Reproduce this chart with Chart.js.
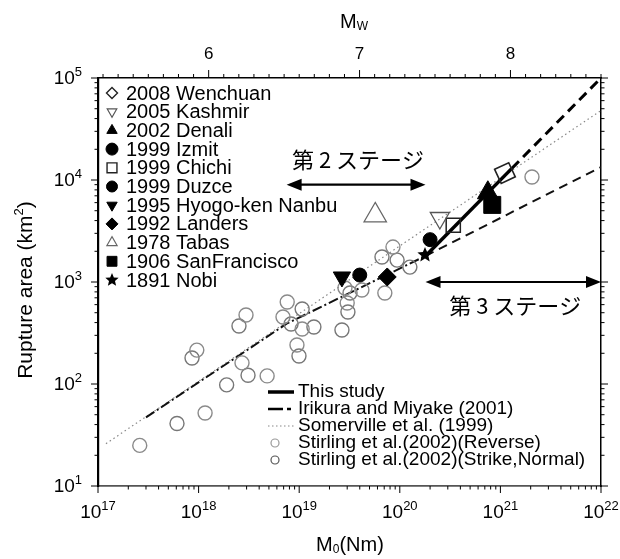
<!DOCTYPE html>
<html><head><meta charset="utf-8">
<script src="https://cdn.jsdelivr.net/npm/chart.js@4/dist/chart.umd.min.js"></script>
<style>html,body{margin:0;padding:0;background:#fff}#wrap{width:620px;height:559px;position:relative}</style>
</head><body><div id="wrap"><canvas id="c" width="620" height="559"></canvas></div>
<script>
// ---------------- data ----------------
const eventNames = ['2008 Wenchuan','2005 Kashmir','2002 Denali','1999 Izmit','1999 Chichi','1999 Duzce','1995 Hyogo-ken Nanbu','1992 Landers','1978 Tabas','1906 SanFrancisco','1891 Nobi'];
const eventM0   = [1.11e21, 2.5e20, 7.5e20, 2.0e20, 3.4e20, 4.0e19, 2.66e19, 7.5e19, 5.7e19, 8.3e20, 1.78e20];
const eventArea = [1.17e4, 4.24e3, 7.5e3, 2.6e3, 3.6e3, 1.17e3, 1.12e3, 1.12e3, 4.5e3, 5.7e3, 1.84e3];

const stirlingRevM0   = [7.6e18, 6.9e18, 1.07e19, 9.5e18, 2.96e18, 9.6e17, 2.7e18, 4.8e18, 1.16e18, 2.6e17, 2.85e19, 3.0e19, 4.2e19, 8.55e19, 7.1e19, 2.06e21];
const stirlingRevArea = [637, 454, 346, 241, 475, 215, 161, 120, 52, 25, 873, 622, 835, 2200, 780, 1.07e4];
const stirlingSNM0    = [1.07e19, 8.3e18, 1.4e19, 9.95e18, 2.52e18, 8.6e17, 3.1e18, 1.9e18, 6.1e17, 2.66e19, 3.2e19, 3.05e19, 6.65e19, 9.4e19, 1.26e20];
const stirlingSNArea  = [544, 387, 362, 188, 370, 180, 122, 98, 41, 338, 780, 508, 1760, 1640, 1400];

const thisStudyM0   = [1.8e20, 1.3e21, 1e22];
const thisStudyArea = [1800, 1.3e4, 1e5];
const irikuraM0     = [3e17, 7.5e18, 1.8e20, 1e22];
const irikuraArea   = [47, 390, 1800, 1.34e4];
const somervilleM0  = [1.2e17, 1e22];
const somervilleArea= [26, 4.8e4];

const stageLabels = ['第 2 ステージ', '第 3 ステージ'];
const stageFromM0 = [7.5e18, 1.8e20];
const stageToM0   = [1.8e20, 1e22];
const stageArea   = [9000, 1000];

const xTickValues = [1e17, 1e18, 1e19, 1e20, 1e21, 1e22];
const xTickExps   = ['17','18','19','20','21','22'];
const yTickValues = [1e1, 1e2, 1e3, 1e4, 1e5];
const yTickExps   = ['1','2','3','4','5'];
const mwTickValues = [6, 7, 8];
const lineLegend = ['This study', 'Irikura and Miyake (2001)', 'Somerville et al. (1999)', 'Stirling et al.(2002)(Reverse)', 'Stirling et al.(2002)(Strike,Normal)'];

// ---------------- styles ----------------
function makeStar(r){
  const c = document.createElement('canvas'); c.width = c.height = 2*r+2;
  const g = c.getContext('2d'); g.translate(r+1, r+1); g.beginPath();
  for (let i = 0; i < 10; i++){ const rr = i%2 ? r*0.45 : r; const an = -Math.PI/2 + i*Math.PI/5; g.lineTo(rr*Math.cos(an), rr*Math.sin(an)); }
  g.closePath(); g.fillStyle = '#000'; g.fill(); return c;
}
const starBig = makeStar(8), starSmall = makeStar(7);
const eventMarkers = [
  {s:'rectRot', r:11, fill:'rgba(0,0,0,0)', line:'#222', w:1.6, rot:20},
  {s:'triangle', r:11, fill:'rgba(0,0,0,0)', line:'#555', w:1.3, rot:180},
  {s:'triangle', r:12, fill:'#000', line:'#000', w:1, rot:0},
  {s:'circle', r:7, fill:'#000', line:'#000', w:1, rot:0},
  {s:'rect', r:10, fill:'rgba(0,0,0,0)', line:'#222', w:1.5, rot:0},
  {s:'circle', r:7, fill:'#000', line:'#000', w:1, rot:0},
  {s:'triangle', r:10, fill:'#000', line:'#000', w:1, rot:180},
  {s:'rectRot', r:9, fill:'#000', line:'#000', w:1, rot:0},
  {s:'triangle', r:13, fill:'rgba(0,0,0,0)', line:'#666', w:1.2, rot:0},
  {s:'rect', r:12, fill:'#000', line:'#000', w:1, rot:0},
  {s:starBig, r:8, fill:'#000', line:'#000', w:0, rot:0}
];
const legendMarkers = [
  {s:'rectRot', r:5.5, fill:'#fff', line:'#222', w:1.4},
  {s:'triangle', r:5.5, fill:'#fff', line:'#555', w:1.2, rot:180},
  {s:'triangle', r:6, fill:'#000', line:'#000', w:1},
  {s:'circle', r:6, fill:'#000', line:'#000', w:1},
  {s:'rect', r:7, fill:'#fff', line:'#222', w:1.4},
  {s:'circle', r:5.5, fill:'#000', line:'#000', w:1},
  {s:'triangle', r:6, fill:'#000', line:'#000', w:1, rot:180},
  {s:'rectRot', r:6, fill:'#000', line:'#000', w:1},
  {s:'triangle', r:6, fill:'#fff', line:'#666', w:1.1},
  {s:'rect', r:7, fill:'#000', line:'#000', w:1},
  {s:starSmall, r:7, fill:'#000', line:'#000', w:0}
];

const FONT = '"Liberation Sans", Arial, sans-serif';
const JFONT = '"Noto Sans CJK JP", sans-serif';

// ---------------- datasets ----------------
const pts = (xs, ys) => xs.map((v, i) => ({x: v, y: ys[i]}));
const datasets = [];
eventNames.forEach((n, i) => {
  const m = eventMarkers[i];
  datasets.push({label: n, data: [{x: eventM0[i], y: eventArea[i]}], pointStyle: m.s, pointRadius: m.r,
    pointRotation: m.rot, backgroundColor: m.fill, borderColor: m.line, pointBorderWidth: m.w, showLine: false, order: 1});
});
datasets.push({label: lineLegend[3], data: pts(stirlingRevM0, stirlingRevArea), pointStyle: 'circle', pointRadius: 7,
  backgroundColor: 'rgba(0,0,0,0)', borderColor: '#8a8a8a', pointBorderWidth: 1.4, showLine: false, order: 2});
datasets.push({label: lineLegend[4], data: pts(stirlingSNM0, stirlingSNArea), pointStyle: 'circle', pointRadius: 7,
  backgroundColor: 'rgba(0,0,0,0)', borderColor: '#777', pointBorderWidth: 1.4, showLine: false, order: 2});
datasets.push({label: lineLegend[0], data: pts(thisStudyM0, thisStudyArea), showLine: true, pointRadius: 0,
  borderColor: '#000', borderWidth: 3.5, order: 3,
  segment: {borderDash: c => c.p0DataIndex >= 1 ? [10, 6] : [], borderWidth: c => c.p0DataIndex >= 1 ? 3 : 3.5}});
datasets.push({label: lineLegend[1], data: pts(irikuraM0, irikuraArea), showLine: true, pointRadius: 0,
  borderColor: '#111', borderWidth: 2, order: 4,
  segment: {borderDash: c => c.p0DataIndex >= 2 ? [9, 6] : [10, 3, 2, 3]}});
datasets.push({label: lineLegend[2], data: pts(somervilleM0, somervilleArea), showLine: true, pointRadius: 0,
  borderColor: '#888', borderWidth: 1.2, borderDash: [1.5, 3], order: 5});

// ---------------- text helpers ----------------
function drawRuns(ctx, parts, x, y, align){
  let total = 0; const ws = [];
  parts.forEach(p => { ctx.font = p[1] + 'px ' + (p[3] || FONT); const w = ctx.measureText(p[0]).width; ws.push(w); total += w; });
  let cx = align === 'center' ? x - total/2 : (align === 'right' ? x - total : x);
  ctx.textAlign = 'left'; ctx.textBaseline = 'middle';
  parts.forEach((p, i) => { ctx.font = p[1] + 'px ' + (p[3] || FONT); ctx.fillText(p[0], cx, y + p[2]); cx += ws[i]; });
}
function arrowHead(ctx, x, y, dir){
  ctx.beginPath(); ctx.moveTo(x, y); ctx.lineTo(x - dir*15, y - 6); ctx.lineTo(x - dir*15, y + 6); ctx.closePath(); ctx.fill();
}

const deco = {
  id: 'deco',
  afterDraw(chart){
    const {ctx, chartArea: a, scales} = chart;
    const sx = scales.x, sy = scales.y, smw = scales.mw;
    ctx.save();
    ctx.fillStyle = '#000'; ctx.strokeStyle = '#000'; ctx.lineWidth = 1;
    ctx.beginPath();
    for (let d = 17; d <= 21; d++) for (let m = 1; m <= 9; m++){
      const p = sx.getPixelForValue(m * Math.pow(10, d)); const L = m === 1 ? 7 : 3.5;
      ctx.moveTo(p, a.bottom); ctx.lineTo(p, a.bottom + L);
    }
    ctx.moveTo(a.right, a.bottom); ctx.lineTo(a.right, a.bottom + 7);
    for (let d = 1; d <= 4; d++) for (let m = 1; m <= 9; m++){
      const p = sy.getPixelForValue(m * Math.pow(10, d)); const L = m === 1 ? 7 : 3.5;
      ctx.moveTo(a.left, p); ctx.lineTo(a.left - L, p);
      ctx.moveTo(a.right, p); ctx.lineTo(a.right + L, p);
    }
    ctx.moveTo(a.left, a.top); ctx.lineTo(a.left - 7, a.top);
    ctx.moveTo(a.right, a.top); ctx.lineTo(a.right + 7, a.top);
    for (let k = 53; k <= 86; k++){
      const v = k / 10; const p = smw.getPixelForValue(v); const L = (k % 10 === 0) ? 8 : 4;
      ctx.moveTo(p, a.top); ctx.lineTo(p, a.top - L);
    }
    ctx.stroke();

    xTickValues.forEach((v, i) => {
      const p = sx.getPixelForValue(v);
      drawRuns(ctx, [['10', 19, 0], [xTickExps[i], 13, -7]], p, a.bottom + 27, 'center');
    });
    yTickValues.forEach((v, i) => {
      const p = sy.getPixelForValue(v);
      drawRuns(ctx, [['10', 19, 0], [yTickExps[i], 13, -7]], a.left - 16, p + 1, 'right');
    });
    mwTickValues.forEach(v => {
      const p = smw.getPixelForValue(v);
      drawRuns(ctx, [[String(v), 17, 0]], p, a.top - 24, 'center');
    });

    drawRuns(ctx, [['M', 20, 0], ['W', 12, 5]], 354, 22, 'center');
    drawRuns(ctx, [['M', 20, 0], ['0', 12, 5], ['(Nm)', 20, 0]], 350, a.bottom + 59, 'center');
    ctx.save(); ctx.translate(26, 290); ctx.rotate(-Math.PI/2);
    drawRuns(ctx, [['Rupture area (km', 21, 0], ['2', 13, -7], [')', 21, 0]], 0, 0, 'center');
    ctx.restore();

    stageLabels.forEach((t, i) => {
      const x1 = sx.getPixelForValue(stageFromM0[i]), x2 = sx.getPixelForValue(stageToM0[i]);
      const y = sy.getPixelForValue(stageArea[i]);
      ctx.lineWidth = 2.2; ctx.beginPath(); ctx.moveTo(x1 + 4, y); ctx.lineTo(x2 - 4, y); ctx.stroke();
      arrowHead(ctx, x1, y, -1); arrowHead(ctx, x2, y, 1);
      const ty = i === 0 ? y - 25 : y + 24;
      drawRuns(ctx, [[t, 22, 0, JFONT]], (x1 + x2)/2 + 2, ty, 'center');
    });

    ctx.lineWidth = 1;
    eventNames.forEach((n, i) => {
      const y = 93 + i * 18.7; const m = legendMarkers[i];
      ctx.fillStyle = m.fill; ctx.strokeStyle = m.line; ctx.lineWidth = m.w || 1;
      Chart.helpers.drawPoint(ctx, {pointStyle: m.s, radius: m.r, borderWidth: m.w, rotation: m.rot || 0}, 112, y);
      ctx.fillStyle = '#000';
      drawRuns(ctx, [[n, 20, 0]], 126, y + 1, 'left');
    });

    const ly = [392, 409, 426, 443, 460];
    ctx.strokeStyle = '#000';
    ctx.lineWidth = 3.5; ctx.setLineDash([]); ctx.beginPath(); ctx.moveTo(268, ly[0]); ctx.lineTo(294, ly[0]); ctx.stroke();
    ctx.lineWidth = 2.5; ctx.setLineDash([15, 4, 4, 8]); ctx.beginPath(); ctx.moveTo(268, ly[1]); ctx.lineTo(296, ly[1]); ctx.stroke();
    ctx.strokeStyle = '#888'; ctx.lineWidth = 1.2; ctx.setLineDash([1.5, 2.5]); ctx.beginPath(); ctx.moveTo(268, ly[2]); ctx.lineTo(294, ly[2]); ctx.stroke();
    ctx.setLineDash([]);
    ctx.fillStyle = '#fff'; ctx.strokeStyle = '#999'; ctx.lineWidth = 1.2;
    Chart.helpers.drawPoint(ctx, {pointStyle: 'circle', radius: 4, borderWidth: 1.2}, 275, ly[3]);
    ctx.strokeStyle = '#555';
    Chart.helpers.drawPoint(ctx, {pointStyle: 'circle', radius: 4, borderWidth: 1.4}, 275, ly[4]);
    ctx.fillStyle = '#000';
    lineLegend.forEach((t, i) => drawRuns(ctx, [[t, 19, 0]], 298, ly[i], 'left'));
    ctx.restore();
  }
};

const mwMin = (2/3) * (Math.log10(1e17) - 9.1), mwMax = (2/3) * (Math.log10(1e22) - 9.1);
new Chart(document.getElementById('c'), {
  type: 'scatter',
  data: {datasets},
  options: {
    responsive: false, devicePixelRatio: 1, animation: false,
    layout: {padding: 0},
    plugins: {legend: {display: false}, tooltip: {enabled: false}},
    scales: {
      x: {type: 'logarithmic', position: 'bottom', min: 1e17, max: 1e22,
          ticks: {display: false}, grid: {display: false}, border: {display: true, color: '#555', width: 1.8},
          afterFit: s => { s.height = 73; }},
      mw: {type: 'linear', axis: 'x', position: 'top', min: mwMin, max: mwMax,
          ticks: {display: false}, grid: {display: false}, border: {display: true, color: '#000', width: 1.5},
          afterFit: s => { s.height = 78; }},
      y: {type: 'logarithmic', position: 'left', min: 10, max: 1e5,
          ticks: {display: false}, grid: {display: false}, border: {display: true, color: '#000', width: 2.2},
          afterFit: s => { s.width = 98; }},
      y2: {type: 'logarithmic', axis: 'y', position: 'right', min: 10, max: 1e5,
          ticks: {display: false}, grid: {display: false}, border: {display: true, color: '#000', width: 1.5},
          afterFit: s => { s.width = 19; }}
    }
  },
  plugins: [deco]
});
</script>
</body></html>
